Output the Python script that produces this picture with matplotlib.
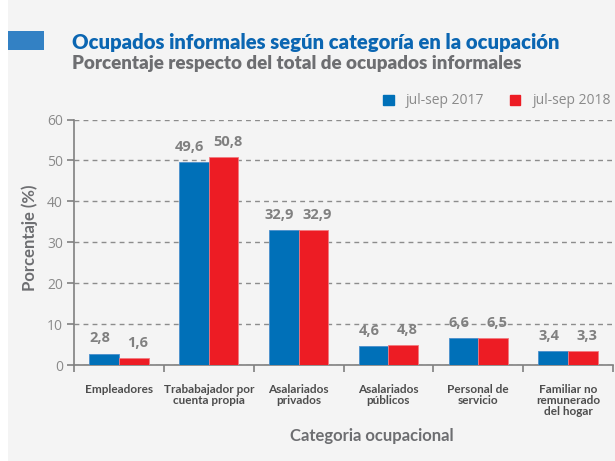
import matplotlib.pyplot as plt
import matplotlib.patches as mpatches
import numpy as np

categorias = ['Empleadores', 'Trababajador por\ncuenta propia', 'Asalariados\nprivados',
              'Asalariados\npúblicos', 'Personal de\nservicio', 'Familiar no\nremunerado\ndel hogar']
serie_2017 = [2.8, 49.6, 32.9, 4.6, 6.6, 3.4]
serie_2018 = [1.6, 50.8, 32.9, 4.8, 6.5, 3.3]
etiquetas_series = ['jul-sep 2017', 'jul-sep 2018']

AZUL = '#0070b8'
ROJO = '#ed1c24'
GRIS = '#808080'
NARROW = ['Lato', 'DejaVu Sans']
OPEN = ['Open Sans', 'DejaVu Sans']

W, H = 615, 461
fig = plt.figure(figsize=(W / 100, H / 100), dpi=100)
fig.patch.set_facecolor('white')
fig.patches.append(mpatches.Rectangle((8 / W, 0), 1, 1, transform=fig.transFigure,
                                      facecolor='#f4f4f4', edgecolor='none', zorder=-10))

ax = fig.add_axes([74 / W, 1 - 365 / H, 539 / W, 245.5 / H])
ax.set_facecolor('none')

x = np.arange(len(categorias))
w = 0.33
b1 = ax.bar(x - w / 2, serie_2017, w, color=AZUL, edgecolor='#4a8fcc', linewidth=0.6, zorder=3)
b2 = ax.bar(x + w / 2, serie_2018, w, color=ROJO, edgecolor='#f27a80', linewidth=0.6, zorder=3)

def fmt(v):
    return f'{v:.1f}'.replace('.', ',')

# etiquetas de valor, un poco separadas hacia afuera como en el original
for bars, vals, dx in ((b1, serie_2017, -3), (b2, serie_2018, 3)):
    for r, v in zip(bars, vals):
        ax.annotate(fmt(v), (r.get_x() + r.get_width() / 2, v), xytext=(dx, 6),
                    textcoords='offset points', ha='center', va='bottom',
                    fontsize=10.5, fontweight='bold', color=GRIS, family=OPEN, zorder=5)

ax.set_xlim(-0.5, len(categorias) - 0.5)
ax.set_ylim(0, 60)
ax.set_yticks(range(0, 61, 10))
ax.yaxis.grid(True, linestyle=(0, (3.5, 3)), color='#8c8c8c', linewidth=1, zorder=0)
ax.set_axisbelow(True)

ax.set_xticks(x)
ax.set_xticklabels(categorias, fontsize=8.5, fontweight='bold', color='#4d4d4d',
                   family=NARROW, linespacing=0.95, va='top')
ax.set_xticks(np.arange(-0.5, len(categorias), 1), minor=True)
ax.tick_params(axis='x', which='major', length=0, pad=14)
ax.tick_params(axis='x', which='minor', length=5, width=1.2, color=GRIS)
ax.tick_params(axis='y', length=5, width=1.2, color=GRIS, labelcolor='#8a8a8a',
               labelsize=10, pad=3)
for lab in ax.get_yticklabels():
    lab.set_family(OPEN)

for s in ('top', 'right'):
    ax.spines[s].set_visible(False)
for s in ('left', 'bottom'):
    ax.spines[s].set_color(GRIS)
    ax.spines[s].set_linewidth(1.2)

# titulos
fig.patches.append(mpatches.Rectangle((8 / W, 1 - 50 / H), 36 / W, 19 / H,
                                      transform=fig.transFigure, facecolor='#3381c4',
                                      edgecolor='none'))
fig.text(72 / W, 1 - 42 / H, 'Ocupados informales según categoría en la ocupación',
         fontsize=14.6, fontweight='heavy', color='#0b66b2', family=NARROW, va='center')
fig.text(72 / W, 1 - 63 / H, 'Porcentaje respecto del total de ocupados informales',
         fontsize=13.5, fontweight='heavy', color='#6d6e71', family=NARROW, va='center')

fig.text(30 / W, 1 - 238 / H, 'Porcentaje (%)', rotation=90, fontsize=12,
         fontweight='bold', color='#6d6e71', family=NARROW, ha='center', va='center')
fig.text(372 / W, 1 - 436 / H, 'Categoria ocupacional', fontsize=12,
         fontweight='bold', color='#6d6e71', family=NARROW, ha='center', va='center')

handles = [mpatches.Patch(color=AZUL), mpatches.Patch(color=ROJO)]
leg = fig.legend(handles, etiquetas_series, loc='center', bbox_to_anchor=(497 / W, 1 - 101 / H),
                 ncol=2, frameon=False, handlelength=0.75, handleheight=0.75,
                 handletextpad=0.9, columnspacing=1.8,
                 prop={'family': OPEN, 'size': 10})
for t in leg.get_texts():
    t.set_color('#8a8a8a')

fig.savefig('out.png', dpi=100, facecolor=fig.get_facecolor())
